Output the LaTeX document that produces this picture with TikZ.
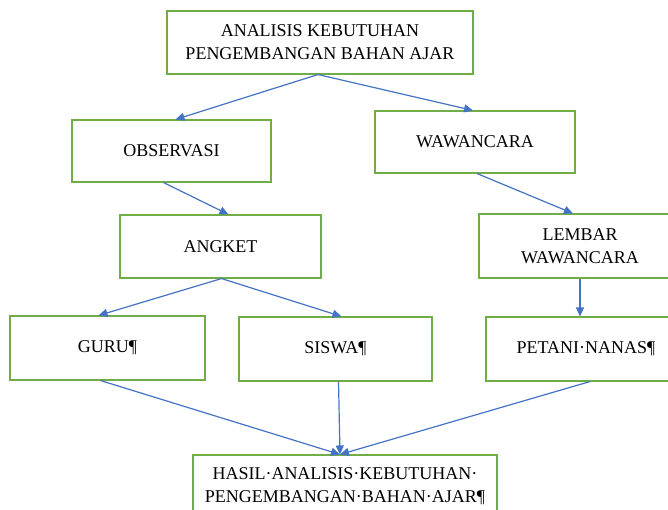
\documentclass[tikz,border=0pt]{standalone}
\usepackage{fontspec}
\setmainfont{Liberation Serif}
\usetikzlibrary{arrows.meta}
\definecolor{boxgreen}{HTML}{70AD47}
\definecolor{arrowblue}{HTML}{4472C4}
\begin{document}
\begin{tikzpicture}[x=1pt,y=-1pt,
  box/.style={draw=boxgreen, line width=1.1pt, align=center, inner sep=0pt,
    font=\fontsize{18}{23}\selectfont, text=black},
  conn/.style={draw=arrowblue, line width=1.2pt, -{Triangle[length=9pt,width=8pt]}}]
\useasboundingbox (0,0) rectangle (668,510);
\clip (0,0) rectangle (668,510);
\node[box, minimum width=306pt, minimum height=63pt] (top) at (320,42.5)
  {ANALISIS KEBUTUHAN\\PENGEMBANGAN BAHAN AJAR};
\node[box, minimum width=199pt, minimum height=62pt] (obs) at (171.5,151) {OBSERVASI};
\node[box, minimum width=200pt, minimum height=62pt] (waw) at (475,142) {WAWANCARA};
\node[box, minimum width=201pt, minimum height=63pt] (ang) at (220.5,246.5) {ANGKET};
\node[box, minimum width=202pt, minimum height=64pt] (lem) at (580,246) {LEMBAR\\WAWANCARA};
\node[box, minimum width=195pt, minimum height=64pt] (guru) at (107.5,348) {GURU¶};
\node[box, minimum width=193pt, minimum height=64pt] (sis) at (335.5,349) {SISWA¶};
\node[box, minimum width=200pt, minimum height=64pt] (pet) at (586,349) {PETANI·NANAS¶};
\node[box, minimum width=304pt, minimum height=63pt] (bot) at (345,486.5)
  {HASIL·ANALISIS·KEBUTUHAN·\\PENGEMBANGAN·BAHAN·AJAR¶};
\coordinate (m) at ([xshift=-5pt]bot.north);

\draw[conn] ([xshift=-2pt]top.south) -- ([xshift=4pt]obs.north);
\draw[conn] ([xshift=-2pt]top.south) -- ([xshift=-2pt]waw.north);
\draw[conn] ([xshift=-8pt]obs.south) -- ([xshift=8pt]ang.north);
\draw[conn] ([xshift=2pt]waw.south) -- ([xshift=-7pt]lem.north);
\draw[conn] ([xshift=1pt]ang.south) -- ([xshift=-9pt]guru.north);
\draw[conn] ([xshift=1pt]ang.south) -- ([xshift=6pt]sis.north);
\draw[conn] (lem.south) -- (lem.south |- pet.north);
\draw[conn] ([xshift=-7pt]guru.south) -- (m);
\draw[conn] ([xshift=3pt]sis.south) -- (m);
\draw[conn] ([xshift=4pt]pet.south) -- (m);
\end{tikzpicture}
\end{document}
